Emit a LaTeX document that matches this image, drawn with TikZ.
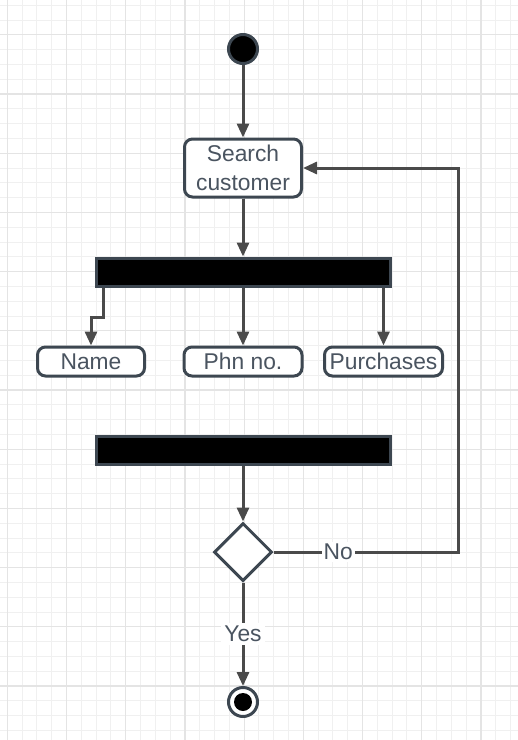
\documentclass[tikz,border=0pt]{standalone}
\usepackage{fontspec}
\setmainfont{Liberation Sans}
\usetikzlibrary{arrows.meta,shapes.geometric}
\definecolor{line-gray}{HTML}{4A4A4A}
\definecolor{box-edge}{HTML}{3D4751}
\definecolor{label-gray}{HTML}{4A5460}
\definecolor{grid-minor}{HTML}{F0F0F0}
\definecolor{grid-major}{HTML}{E4E4E4}

\begin{document}
\begin{tikzpicture}[x=0.5pt, y=-0.5pt,
        every node/.style={font=\fontsize{11.4}{14.5}\selectfont, text=label-gray},
        action/.style={draw=box-edge, line width=1.5pt, fill=white, rounded corners=4pt,
            minimum width=59pt, minimum height=14.5pt, inner sep=0.5pt, align=center},
        forkbar/.style={draw=box-edge, line width=1.5pt, fill=black,
            minimum width=147pt, minimum height=14pt, inner sep=0pt},
        flow/.style={draw=line-gray, line width=1.5pt, -{Triangle[length=7pt, width=6pt]}}]
      \useasboundingbox (0,0) rectangle (518,740);
      \fill[white] (0,0) rectangle (518,740);
      \foreach \k in {0,...,34}
        \draw[grid-minor, line width=0.5pt] (7.3+\k*14.8,0) -- (7.3+\k*14.8,740);
      \foreach \k in {0,...,49}
        \draw[grid-minor, line width=0.5pt] (0,5.2+\k*14.8) -- (518,5.2+\k*14.8);
      \foreach \k in {0,...,8}
        \draw[grid-major, line width=0.6pt] (7.3+\k*59.2,0) -- (7.3+\k*59.2,740);
      \foreach \k in {0,...,12}
        \draw[grid-major, line width=0.6pt] (0,34.8+\k*59.2) -- (518,34.8+\k*59.2);

      \node[circle, draw=box-edge, fill=black, line width=1.5pt,
            minimum size=14.5pt, inner sep=0pt] (start) at (243,49) {};
      \node[action, minimum width=58.5pt, minimum height=29pt] (search) at (243,168) {Search\\customer};
      \node[forkbar] (fork) at (243,272) {};
      \node[action, minimum width=53.5pt] (name) at (91,361.5) {Name};
      \node[action] (phone) at (243,361.5) {Phn no.};
      \node[action] (purchases) at (383.5,361.5) {Purchases};
      \node[forkbar] (join) at (243,450) {};
      \node[diamond, draw=box-edge, fill=white, line width=1.5pt, aspect=1,
            minimum width=29pt, minimum height=29pt, inner sep=0pt] (check) at (243,552) {};
      \node[circle, draw=box-edge, fill=white, line width=1.5pt,
            minimum size=14.5pt, inner sep=0pt] (final) at (243,702) {};
      \node[circle, fill=black, minimum size=9pt, inner sep=0pt] (finaldot) at (final) {};

      \draw[flow] (start) -- (search);
      \draw[flow] (search) -- (fork);
      \draw[flow] ([xshift=4.5pt]fork.south west) -- ++(0,30) -| (name.north);
      \draw[flow] (fork.south) -- (phone.north);
      \draw[flow] (fork.south -| purchases.north) -- (purchases.north);
      \draw[flow] (join) -- (check);
      \draw[flow] (check.east) -- node[pos=0.35, fill=white, inner sep=1pt] {No}
            ++(185,0) |- (search.east);
      \draw[flow] (check.south) -- node[fill=white, inner sep=1.5pt] {Yes} (final.north);
    \end{tikzpicture}
\end{document}
